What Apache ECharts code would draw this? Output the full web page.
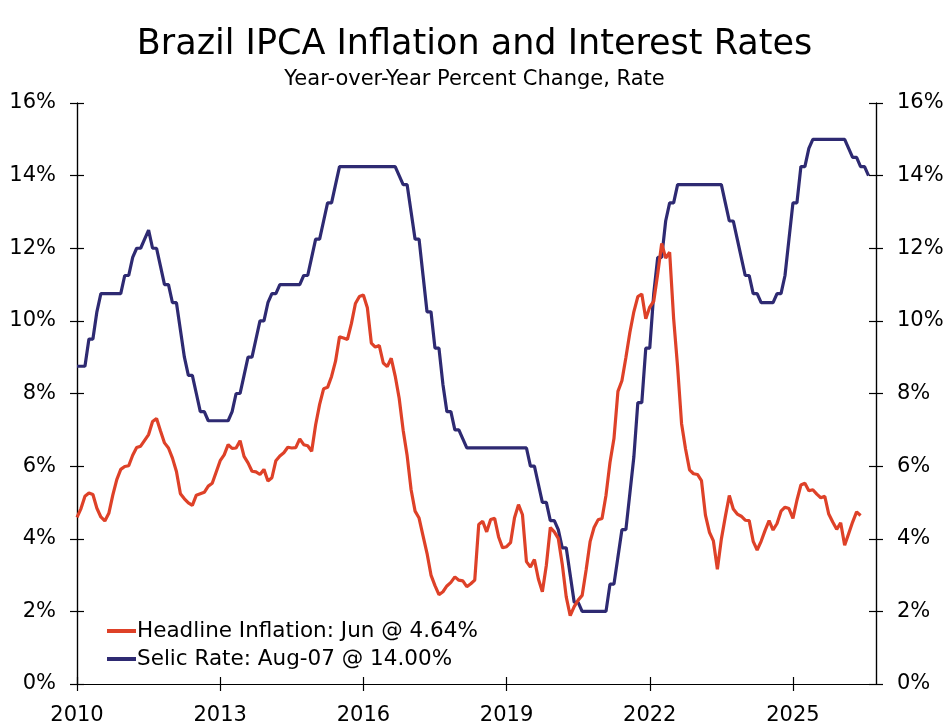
<!DOCTYPE html>
<html>
<head>
<meta charset="utf-8">
<script src="https://cdn.jsdelivr.net/npm/echarts@6/dist/echarts.min.js"></script>
<style>
  html, body { margin: 0; padding: 0; background: #fff; }
  #chart { width: 949px; height: 727px; }
</style>
</head>
<body>
<div id="chart"></div>
<script>
// 数据：2010年1月起的月度数据
const startYear = 2010;
const yearTicks = [2010, 2013, 2016, 2019, 2022, 2025];
const percentTicks = [0, 2, 4, 6, 8, 10, 12, 14, 16];

const inflationName = 'Headline Inflation: Jun @ 4.64%';
const selicName = 'Selic Rate: Aug-07 @ 14.00%';

// IPCA 同比 (%)，2010-01 至 2026-06
const inflation = [
    4.59, 4.83, 5.17, 5.26, 5.22, 4.84, 4.60, 4.49, 4.70, 5.20, 5.63, 5.91,
    5.99, 6.01, 6.30, 6.51, 6.55, 6.71, 6.87, 7.23, 7.31, 6.97, 6.64, 6.50,
    6.22, 5.85, 5.24, 5.10, 4.99, 4.92, 5.20, 5.24, 5.28, 5.45, 5.53, 5.84,
    6.15, 6.31, 6.59, 6.49, 6.50, 6.70, 6.27, 6.09, 5.86, 5.84, 5.77, 5.91,
    5.59, 5.68, 6.15, 6.28, 6.37, 6.52, 6.50, 6.51, 6.75, 6.59, 6.56, 6.41,
    7.14, 7.70, 8.13, 8.17, 8.47, 8.89, 9.56, 9.53, 9.49, 9.93, 10.48, 10.67,
    10.71, 10.36, 9.39, 9.28, 9.32, 8.84, 8.74, 8.97, 8.48, 7.87, 6.99, 6.29,
    5.35, 4.76, 4.57, 4.08, 3.60, 3.00, 2.71, 2.46, 2.54, 2.70, 2.80, 2.95,
    2.86, 2.84, 2.68, 2.76, 2.86, 4.39, 4.48, 4.19, 4.53, 4.56, 4.05, 3.75,
    3.78, 3.89, 4.58, 4.94, 4.66, 3.37, 3.22, 3.43, 2.89, 2.54, 3.27, 4.31,
    4.19, 4.01, 3.30, 2.40, 1.88, 2.13, 2.31, 2.44, 3.14, 3.92, 4.31, 4.52,
    4.56, 5.20, 6.10, 6.76, 8.06, 8.35, 8.99, 9.68, 10.25, 10.67, 10.74, 10.06,
    10.38, 10.54, 11.30, 12.13, 11.73, 11.89, 10.07, 8.73, 7.17, 6.47, 5.90, 5.79,
    5.77, 5.60, 4.65, 4.18, 3.94, 3.16, 3.99, 4.61, 5.19, 4.82, 4.68, 4.62,
    4.51, 4.50, 3.93, 3.69, 3.93, 4.23, 4.50, 4.24, 4.42, 4.76, 4.87, 4.83,
    4.56, 5.06, 5.48, 5.53, 5.32, 5.35, 5.23, 5.13, 5.17, 4.68, 4.46, 4.26,
    4.44, 3.82, 4.14, 4.46, 4.74, 4.64
];

// Selic 利率 (%)，月末值，2010-01 至 2026-08
const selic = [
    8.75, 8.75, 8.75, 9.5, 9.5, 10.25, 10.75, 10.75, 10.75, 10.75, 10.75, 10.75,
    11.25, 11.25, 11.75, 12.0, 12.0, 12.25, 12.5, 12.0, 12.0, 11.5, 11.0, 11.0,
    10.5, 10.5, 9.75, 9.0, 8.5, 8.5, 8.0, 7.5, 7.5, 7.25, 7.25, 7.25,
    7.25, 7.25, 7.25, 7.5, 8.0, 8.0, 8.5, 9.0, 9.0, 9.5, 10.0, 10.0,
    10.5, 10.75, 10.75, 11.0, 11.0, 11.0, 11.0, 11.0, 11.0, 11.25, 11.25, 11.75,
    12.25, 12.25, 12.75, 13.25, 13.25, 13.75, 14.25, 14.25, 14.25, 14.25, 14.25, 14.25,
    14.25, 14.25, 14.25, 14.25, 14.25, 14.25, 14.25, 14.25, 14.25, 14.0, 13.75, 13.75,
    13.0, 12.25, 12.25, 11.25, 10.25, 10.25, 9.25, 9.25, 8.25, 7.5, 7.5, 7.0,
    7.0, 6.75, 6.5, 6.5, 6.5, 6.5, 6.5, 6.5, 6.5, 6.5, 6.5, 6.5,
    6.5, 6.5, 6.5, 6.5, 6.5, 6.5, 6.0, 6.0, 5.5, 5.0, 5.0, 4.5,
    4.5, 4.25, 3.75, 3.75, 3.0, 2.25, 2.25, 2.0, 2.0, 2.0, 2.0, 2.0,
    2.0, 2.0, 2.75, 2.75, 3.5, 4.25, 4.25, 5.25, 6.25, 7.75, 7.75, 9.25,
    9.25, 10.75, 11.75, 11.75, 12.75, 13.25, 13.25, 13.75, 13.75, 13.75, 13.75, 13.75,
    13.75, 13.75, 13.75, 13.75, 13.75, 13.75, 13.75, 13.25, 12.75, 12.75, 12.25, 11.75,
    11.25, 11.25, 10.75, 10.75, 10.5, 10.5, 10.5, 10.5, 10.75, 10.75, 11.25, 12.25,
    13.25, 13.25, 14.25, 14.25, 14.75, 15.0, 15.0, 15.0, 15.0, 15.0, 15.0, 15.0,
    15.0, 15.0, 14.75, 14.5, 14.5, 14.25, 14.25, 14.0
];

const RED = '#DE4128';
const NAVY = '#2E2A72';
const FONT = 'DejaVu Sans';

function toMonthly(values) {
    return values.map((v, i) => [startYear + i / 12, v]);
}

// 左右各两条轴：一条外侧刻度+标签，一条内侧刻度，形成穿过轴线的刻度
function makeYAxis(position, inside, showLabel) {
    return {
        type: 'value', position: position, min: 0, max: 16, interval: 2,
        axisLine: { show: true, lineStyle: { color: '#000', width: 1.2 } },
        axisTick: { show: true, inside: inside, length: 7, lineStyle: { color: '#000', width: 1.2 } },
        axisLabel: {
            show: showLabel, formatter: '{value}%', color: '#000',
            fontFamily: FONT, fontSize: 21, margin: 21
        },
        splitLine: { show: false }
    };
}

function makeXAxis(inside, showLabel) {
    return {
        type: 'value', position: 'bottom', min: 2010, max: 2026.74,
        axisLine: { show: true, lineStyle: { color: '#000', width: 1.2 } },
        axisTick: { show: true, inside: inside, length: 7, customValues: yearTicks, lineStyle: { color: '#000', width: 1.2 } },
        axisLabel: {
            show: showLabel, customValues: yearTicks, formatter: v => String(Math.round(v)),
            color: '#000', fontFamily: FONT, fontSize: 21, margin: 21
        },
        splitLine: { show: false }
    };
}

const chart = echarts.init(document.getElementById('chart'), null, { renderer: 'canvas' });
chart.setOption({
    backgroundColor: '#fff',
    animation: false,
    title: [{
        text: 'Brazil IPCA Inflation and Interest Rates',
        left: 'center', top: 22,
        textStyle: { fontFamily: FONT, fontSize: 35, fontWeight: 'normal', color: '#000' }
    }, {
        text: 'Year-over-Year Percent Change, Rate',
        left: 'center', top: 64,
        textStyle: { fontFamily: FONT, fontSize: 21, fontWeight: 'normal', color: '#000' }
    }],
    legend: {
        orient: 'vertical', left: 102, top: 615,
        icon: 'rect', itemWidth: 29, itemHeight: 4, itemGap: 6,
        textStyle: { fontFamily: FONT, fontSize: 21.5, color: '#000', padding: [0, 0, 0, -4] },
        data: [inflationName, selicName]
    },
    grid: { left: 77, right: 73, top: 103, bottom: 43, containLabel: false },
    xAxis: [makeXAxis(false, true), makeXAxis(true, false)],
    yAxis: [
        makeYAxis('left', false, true),
        makeYAxis('left', true, false),
        makeYAxis('right', false, true),
        makeYAxis('right', true, false)
    ],
    series: [{
        name: selicName, type: 'line', data: toMonthly(selic),
        showSymbol: false, z: 2,
        lineStyle: { color: NAVY, width: 3.2 }, itemStyle: { color: NAVY }
    }, {
        name: inflationName, type: 'line', data: toMonthly(inflation),
        showSymbol: false, z: 3,
        lineStyle: { color: RED, width: 3.2 }, itemStyle: { color: RED }
    }]
});
</script>
</body>
</html>
